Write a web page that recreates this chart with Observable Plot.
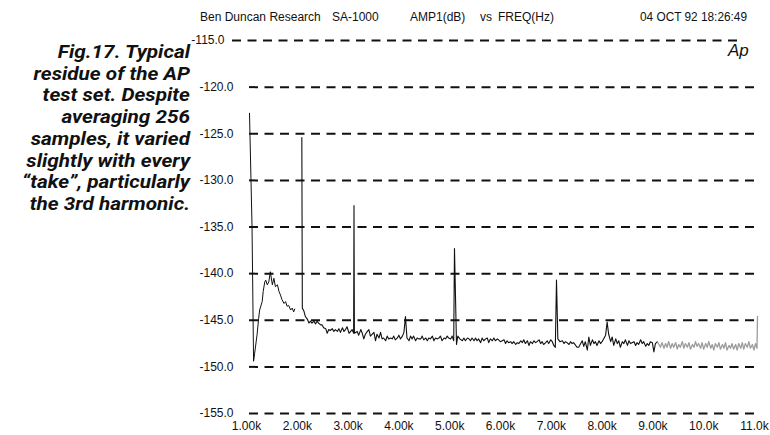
<!DOCTYPE html>
<html><head><meta charset="utf-8">
<script src="https://cdn.jsdelivr.net/npm/d3@7"></script>
<script src="https://cdn.jsdelivr.net/npm/@observablehq/plot@0.6"></script>
<style>
body{margin:0;background:#fff}
#wrap{position:relative;width:770px;height:435px;overflow:hidden;background:#fff}
#wrap svg{position:absolute;left:0;top:0}
</style></head><body>
<div id="wrap"></div>
<script>
// ---- data ----
const yTicks = [-115, -120, -125, -130, -135, -140, -145, -150, -155];
const xTicks = [1, 2, 3, 4, 5, 6, 7, 8, 9, 10, 11];
const xLabels = ["1.00k","2.00k","3.00k","4.00k","5.00k","6.00k","7.00k","8.00k","9.00k","10.0k","11.0k"];
const headerLeft = ["Ben Duncan Research", "SA-1000"];
const headerMid = ["AMP1(dB)", "vs", "FREQ(Hz)"];
const headerDate = "04 OCT 92 18:26:49";
const logo = "Ap";
const captionLines = ["Fig.17. Typical","residue of the AP","test set. Despite","averaging 256","samples, it varied","slightly with every","\u201Ctake\u201D, particularly","the 3rd harmonic."];

// trace segments: [freq kHz, level dB]
const humpSeg = [[1.00,-122.8],[1.05,-135.0],[1.08,-149.4],[1.10,-148.6],[1.15,-146.5],[1.18,-144.8],[1.20,-143.9],[1.25,-143.0],[1.27,-141.9],[1.30,-140.9],[1.32,-140.7],[1.35,-141.2],[1.38,-140.9],[1.41,-139.8],[1.45,-141.2],[1.48,-140.5],[1.51,-141.4],[1.55,-141.2],[1.58,-141.9],[1.61,-142.3],[1.64,-142.8],[1.68,-143.2],[1.71,-143.0],[1.74,-143.5],[1.77,-143.4],[1.81,-143.9],[1.84,-143.7],[1.87,-144.1],[1.89,-143.8]];
const mainSeg = [[2.03,-125.4],[2.04,-143.7],[2.07,-144.0],[2.10,-144.6],[2.14,-144.9],[2.17,-145.3],[2.20,-145.1],[2.23,-145.3],[2.27,-145.1],[2.30,-145.4],[2.33,-145.1],[2.36,-145.3],[2.40,-145.5],[2.43,-145.5],[2.46,-145.8],[2.50,-145.9],[2.53,-146.4],[2.56,-146.0],[2.59,-146.1],[2.63,-145.9],[2.66,-146.2],[2.69,-146.0],[2.73,-146.2],[2.76,-145.9],[2.79,-146.3],[2.83,-145.8],[2.86,-146.2],[2.89,-146.0],[2.92,-145.7],[2.96,-146.4],[2.99,-146.2],[3.02,-146.0],[3.05,-146.4],[3.057,-132.7],[3.065,-146.4],[3.12,-146.2],[3.15,-146.6],[3.19,-146.0],[3.22,-146.4],[3.25,-147.0],[3.28,-146.5],[3.32,-146.2],[3.35,-146.0],[3.38,-146.7],[3.45,-146.3],[3.48,-147.2],[3.51,-146.5],[3.55,-146.9],[3.58,-146.3],[3.61,-147.0],[3.64,-146.9],[3.68,-147.2],[3.71,-146.7],[3.74,-147.0],[3.78,-146.9],[3.81,-147.0],[3.84,-146.7],[3.87,-147.1],[3.91,-146.9],[3.94,-146.6],[3.97,-147.0],[4.01,-146.7],[4.04,-146.3],[4.07,-144.6],[4.10,-146.9],[4.14,-147.2],[4.17,-146.7],[4.20,-147.0],[4.23,-146.7],[4.27,-147.2],[4.30,-146.9],[4.33,-147.0],[4.37,-147.0],[4.40,-146.7],[4.43,-147.1],[4.47,-146.9],[4.50,-147.2],[4.53,-146.9],[4.56,-147.0],[4.60,-146.7],[4.63,-147.2],[4.66,-146.9],[4.70,-147.0],[4.73,-146.9],[4.76,-146.7],[4.79,-147.2],[4.83,-146.9],[4.86,-147.0],[4.89,-146.7],[4.92,-146.9],[4.96,-147.0],[4.99,-146.7],[5.02,-147.2],[5.035,-137.3],[5.075,-147.6],[5.10,-146.7],[5.14,-147.0],[5.19,-147.2],[5.22,-146.9],[5.25,-147.2],[5.29,-146.9],[5.32,-147.0],[5.35,-147.2],[5.38,-146.9],[5.42,-147.2],[5.45,-146.9],[5.48,-147.2],[5.51,-147.0],[5.55,-147.4],[5.58,-146.9],[5.61,-147.2],[5.65,-147.0],[5.68,-146.9],[5.71,-147.4],[5.74,-147.0],[5.78,-147.2],[5.81,-146.9],[5.84,-147.2],[5.88,-147.0],[5.94,-147.3],[6.01,-147.1],[6.04,-147.5],[6.07,-147.2],[6.10,-147.4],[6.14,-147.3],[6.17,-147.5],[6.20,-147.3],[6.24,-147.6],[6.27,-147.4],[6.30,-147.5],[6.34,-147.2],[6.37,-147.4],[6.40,-147.1],[6.43,-147.5],[6.47,-147.2],[6.50,-147.7],[6.53,-147.3],[6.57,-147.5],[6.60,-147.2],[6.63,-147.4],[6.66,-147.3],[6.70,-147.1],[6.73,-147.5],[6.76,-147.3],[6.79,-147.6],[6.83,-147.4],[6.86,-147.2],[6.89,-147.5],[6.93,-147.1],[6.96,-147.3],[6.99,-147.7],[7.02,-147.9],[7.043,-140.7],[7.07,-147.0],[7.11,-147.3],[7.16,-147.2],[7.19,-147.5],[7.22,-147.3],[7.25,-147.4],[7.29,-147.6],[7.32,-147.3],[7.35,-147.5],[7.38,-147.4],[7.42,-147.7],[7.45,-147.9],[7.48,-147.9],[7.52,-147.5],[7.55,-147.2],[7.58,-147.8],[7.61,-147.3],[7.65,-148.2],[7.68,-146.8],[7.71,-147.7],[7.75,-147.1],[7.78,-147.5],[7.81,-147.3],[7.84,-147.7],[7.88,-147.2],[7.91,-147.5],[7.94,-147.3],[7.97,-147.0],[8.01,-146.6],[8.04,-145.2],[8.07,-146.5],[8.11,-147.3],[8.14,-146.8],[8.17,-147.7],[8.21,-147.0],[8.24,-147.5],[8.27,-147.2],[8.30,-147.9],[8.34,-147.3],[8.37,-147.5],[8.40,-147.1],[8.44,-147.7],[8.47,-147.2],[8.50,-147.5],[8.57,-147.3],[8.60,-147.7],[8.63,-147.4],[8.66,-147.6],[8.70,-147.1],[8.73,-147.5],[8.76,-147.3],[8.80,-147.8],[8.83,-147.5],[8.86,-147.7],[8.89,-147.3],[8.93,-147.4],[8.96,-148.4],[8.99,-147.5],[9.03,-147.3]];
const greySeg = [[9.03,-147.3],[9.06,-147.6],[9.09,-147.9],[9.12,-147.4],[9.16,-148.0],[9.19,-147.5],[9.22,-147.9],[9.25,-147.3],[9.29,-148.0],[9.32,-147.5],[9.35,-147.9],[9.39,-147.4],[9.42,-148.1],[9.45,-147.6],[9.48,-147.9],[9.52,-147.3],[9.55,-148.0],[9.58,-147.5],[9.62,-147.9],[9.65,-147.4],[9.68,-148.1],[9.72,-147.6],[9.75,-147.9],[9.78,-147.3],[9.81,-147.8],[9.84,-147.5],[9.88,-148.0],[9.91,-147.4],[9.94,-148.1],[9.98,-147.5],[10.01,-147.9],[10.04,-147.3],[10.08,-148.0],[10.11,-147.6],[10.14,-148.2],[10.17,-147.5],[10.21,-147.9],[10.24,-147.4],[10.27,-148.1],[10.31,-147.6],[10.34,-148.0],[10.37,-147.4],[10.40,-148.2],[10.44,-147.7],[10.47,-148.0],[10.50,-147.5],[10.53,-148.1],[10.57,-147.6],[10.60,-148.2],[10.63,-147.5],[10.67,-148.0],[10.70,-147.4],[10.73,-148.1],[10.76,-147.5],[10.80,-147.9],[10.83,-147.3],[10.86,-148.0],[10.90,-147.6],[10.93,-148.2],[10.96,-147.5],[10.99,-148.0],[11.0,-144.6]];

// ---- chart ----
const font = "'Liberation Sans', Arial, sans-serif";
const topTick = yTicks.slice(0, 1);      // the scan shows the top row shifted left
const otherTicks = yTicks.slice(1);
const grid = {stroke: "#111", strokeWidth: 2, strokeDasharray: "9,6.5"};
const yAx = {tickSize: 0, tickPadding: 16, tickFormat: d => d.toFixed(1), label: null, fontSize: 12};
const chart = Plot.plot({
  width: 770, height: 435,
  marginLeft: 249, marginRight: 13, marginTop: 40, marginBottom: 22,
  style: {fontFamily: font, fontSize: "12px", color: "#111", background: "transparent", overflow: "visible"},
  x: {domain: [1, 11]},
  y: {domain: [-155, -115]},
  marks: [
    Plot.ruleY(otherTicks, grid),
    Plot.ruleY(topTick, {...grid, dx: -17}),
    Plot.line(humpSeg, {x: d => d[0], y: d => d[1], stroke: "#111", strokeWidth: 1}),
    Plot.line(mainSeg, {x: d => d[0], y: d => d[1], stroke: "#111", strokeWidth: 1.1}),
    Plot.line(greySeg, {x: d => d[0], y: d => d[1], stroke: "#9c9c9c", strokeWidth: 1.3}),
    Plot.axisY(otherTicks, yAx),
    Plot.axisY(topTick, {...yAx, dx: -9}),
    Plot.axisX(xTicks, {tickSize: 0, tickPadding: 8, dx: -3, tickFormat: d => xLabels[xTicks.indexOf(d)], label: null, fontSize: 12})
  ]
});
const wrap = document.getElementById("wrap");
wrap.appendChild(chart);

// ---- header, logo, caption (overlay) ----
const ns = "http://www.w3.org/2000/svg";
const ov = document.createElementNS(ns, "svg");
ov.setAttribute("width", 770); ov.setAttribute("height", 435);
function txt(s, x, y, attrs) {
  const t = document.createElementNS(ns, "text");
  t.textContent = s; t.setAttribute("x", x); t.setAttribute("y", y);
  for (const k in attrs) t.setAttribute(k, attrs[k]);
  ov.appendChild(t); return t;
}
const hdr = {"font-family": font, "font-size": 12, fill: "#111"};
txt(headerLeft[0], 200, 21, hdr);
txt(headerLeft[1], 332, 21, hdr);
txt(headerMid[0], 410, 21, hdr);
txt(headerMid[1], 480, 21, hdr);
txt(headerMid[2], 498, 21, hdr);
txt(headerDate, 640, 21, Object.assign({textLength: 107, lengthAdjust: "spacingAndGlyphs"}, hdr));
txt(logo, 728, 56, {"font-family": font, "font-size": 17, "font-style": "italic", fill: "#111"});
captionLines.forEach((s, i) => {
  txt(s, 0, 0, {transform: `translate(190,${58 + i * 21.7}) scale(1.14,1)`, "font-family": "Roboto, Lato, sans-serif", "font-size": 18.2, "font-weight": 700, "font-style": "italic", "text-anchor": "end", fill: "#111"});
});
wrap.appendChild(ov);
</script>
</body></html>
